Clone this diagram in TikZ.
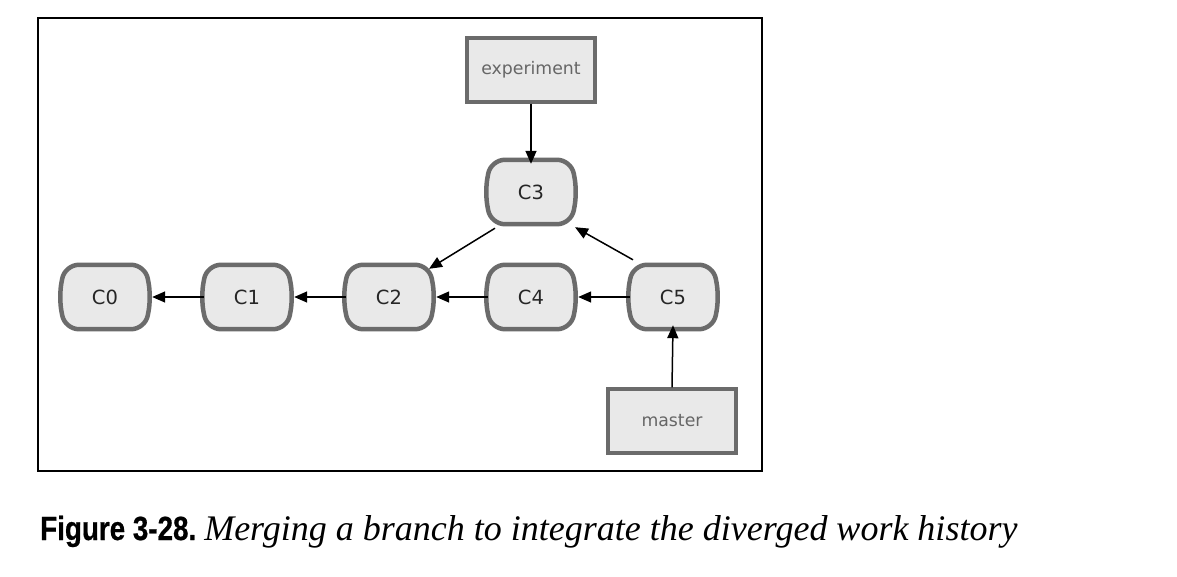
\documentclass[tikz,border=0pt]{standalone}
\usepackage{fontspec}
\setmainfont{Liberation Serif}
\newfontfamily\dejavu{DejaVu Sans}
\newfontfamily\capbold[FakeStretch=0.83,FakeBold=0.6]{Liberation Sans Bold}
\usetikzlibrary{arrows.meta}
\definecolor{boxfill}{gray}{0.915}
\definecolor{boxline}{gray}{0.42}
\pgfdeclarelayer{bottom}
\pgfdeclarelayer{background}
\pgfsetlayers{bottom,background,main}
\tikzset{
  commit/.style={draw=none, minimum width=86pt, minimum height=64pt, inner sep=0pt,
    font=\dejavu\fontsize{19.5}{19.5}\selectfont, text=black!85},
  cshape/.style={draw=boxline, fill=boxfill, line width=4.5pt, rounded corners=14pt},
  branch/.style={draw=boxline, fill=boxfill, line width=3.3pt, minimum width=128pt,
    minimum height=64pt, inner sep=0pt, font=\dejavu\fontsize{17.3}{17.3}\selectfont, text=black!60},
  link/.style={line width=1.5pt, -{Triangle[length=13pt,width=11pt]}},
}
\newcommand{\commitbox}[3]{%
  \node[commit] (#1) at (#2) {#3};
  \begin{pgfonlayer}{background}
  \draw[cshape] ([xshift=3pt]#1.north west) -- ([xshift=-3pt]#1.north east) -- ([xshift=3pt]#1.east)
    -- ([xshift=-3pt]#1.south east) -- ([xshift=3pt]#1.south west) -- ([xshift=-3pt]#1.west) -- cycle;
  \end{pgfonlayer}}
\begin{document}
\begin{tikzpicture}[x=1pt,y=-1pt]
\useasboundingbox (0,0) rectangle (1177,576);
\begin{pgfonlayer}{bottom}
\fill[white] (0,0) rectangle (1177,576);
\end{pgfonlayer}
\draw[line width=1.5pt] (38,18) rectangle (762,471);
\commitbox{c0}{105,297}{C0}
\commitbox{c1}{247,297}{C1}
\commitbox{c2}{389,297}{C2}
\commitbox{c4}{531,297}{C4}
\commitbox{c5}{673,297}{C5}
\commitbox{c3}{531,192}{C3}
\node[branch] (exp) at (531,70) {experiment};
\node[branch] (mas) at (672,421) {master};
\draw[link] (c1.west) -- ([xshift=4pt]c0.east);
\draw[link] (c2.west) -- ([xshift=4pt]c1.east);
\draw[link] (c4.west) -- ([xshift=4pt]c2.east);
\draw[link] (c5.west) -- ([xshift=4pt]c4.east);
\draw[link] ([shift={(-36pt,-4pt)}]c3.south) -- ([shift={(40pt,-4pt)}]c2.north);
\draw[link] ([shift={(-40pt,5pt)}]c5.north) -- ([shift={(44pt,-3pt)}]c3.south);
\draw[link] (exp.south) -- ([yshift=-4pt]c3.north);
\draw[link] (mas.north) -- ([yshift=4pt]c5.south);
\node[anchor=base west, inner sep=0pt] (cap) at (40,540)
  {{\capbold\fontsize{33.5}{33.5}\selectfont Figure 3-28.}\hspace{8pt}{\itshape\fontsize{36}{36}\selectfont Merging a branch to integrate the diverged work history}};
\end{tikzpicture}
\end{document}
